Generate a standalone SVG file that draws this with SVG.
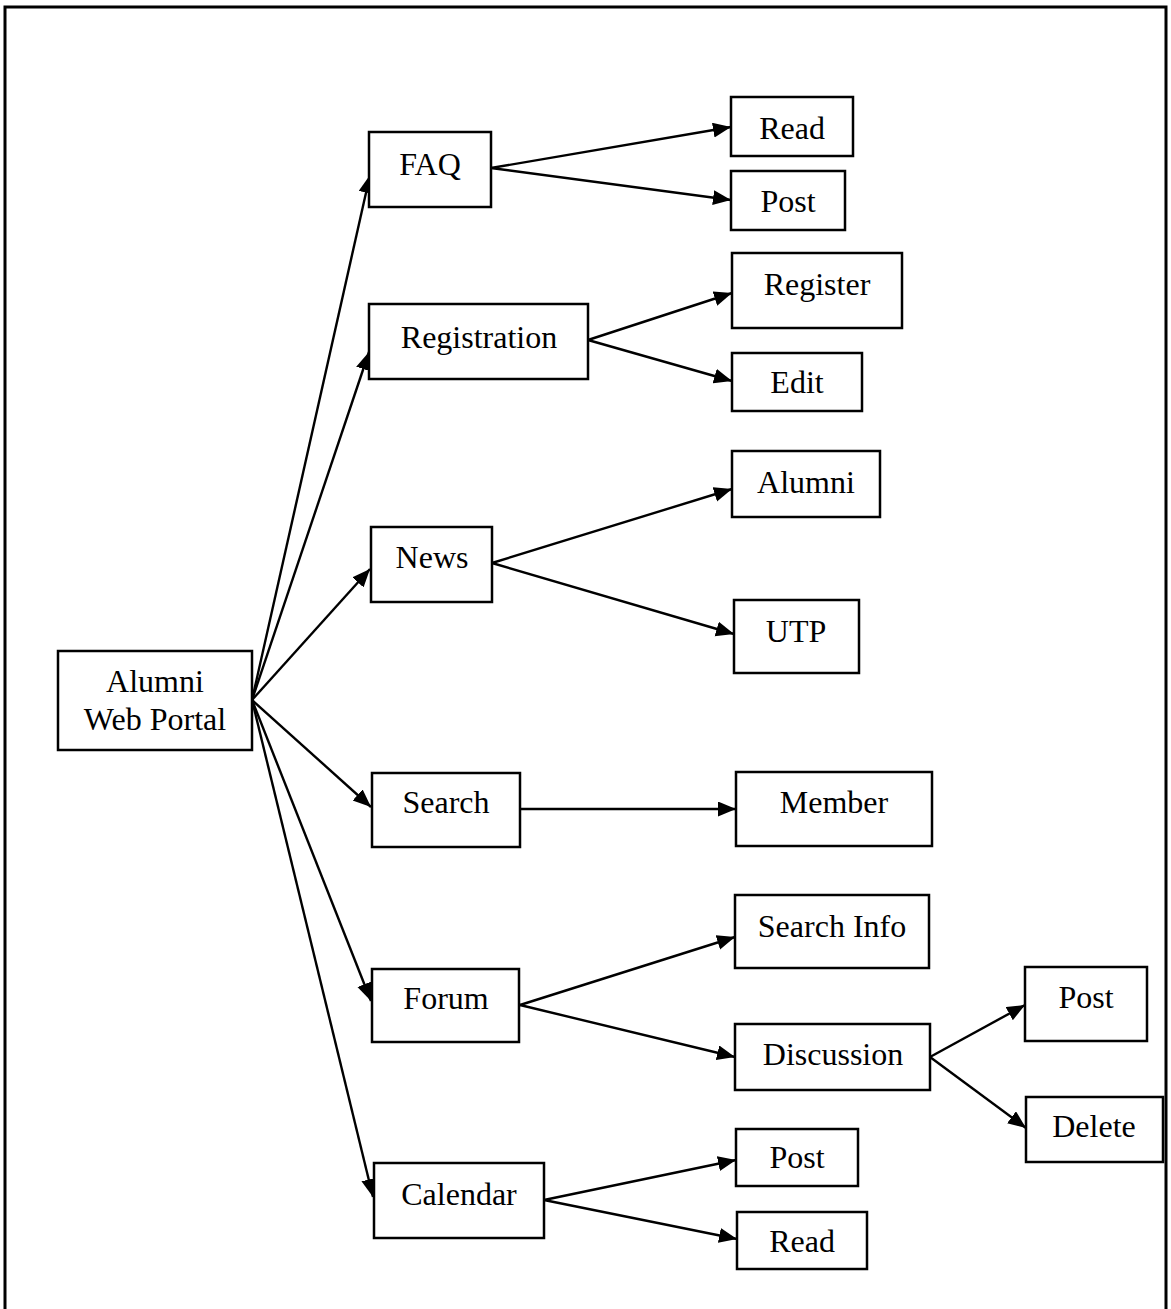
<svg xmlns="http://www.w3.org/2000/svg" width="1171" height="1309" viewBox="0 0 1171 1309">
<style>
.box{fill:#fff;stroke:#000;stroke-width:2.5}
.lbl{font-family:"Liberation Serif","Times New Roman",serif;font-size:32px;fill:#000;text-anchor:middle}
.edge{fill:none;stroke:#000;stroke-width:2.4;marker-end:url(#arr)}
</style>
<defs>
<marker id="arr" markerUnits="userSpaceOnUse" markerWidth="20" markerHeight="16" refX="18" refY="7.5" orient="auto">
<path d="M0,0 L18,7.5 L0,15 z" fill="#000"/>
</marker>
</defs>
<rect width="1171" height="1309" fill="#fff"/>
<path d="M5,1309 V7 H1166 V1309" fill="none" stroke="#000" stroke-width="3"/>
<g id="connectors">
<line class="edge" x1="252" y1="700" x2="370" y2="175"/>
<line class="edge" x1="252" y1="700" x2="369" y2="352"/>
<line class="edge" x1="252" y1="700" x2="370" y2="569"/>
<line class="edge" x1="252" y1="700" x2="371" y2="807"/>
<line class="edge" x1="252" y1="700" x2="371" y2="1001"/>
<line class="edge" x1="252" y1="700" x2="373" y2="1197"/>
<line class="edge" x1="491" y1="168" x2="731" y2="127"/>
<line class="edge" x1="491" y1="168" x2="731" y2="200"/>
<line class="edge" x1="588" y1="340" x2="732" y2="293"/>
<line class="edge" x1="588" y1="340" x2="732" y2="381"/>
<line class="edge" x1="492" y1="563" x2="732" y2="489"/>
<line class="edge" x1="492" y1="563" x2="734" y2="634"/>
<line class="edge" x1="520" y1="809" x2="736" y2="809"/>
<line class="edge" x1="520" y1="1005" x2="735" y2="937"/>
<line class="edge" x1="520" y1="1005" x2="735" y2="1057"/>
<line class="edge" x1="544" y1="1200" x2="736" y2="1160"/>
<line class="edge" x1="544" y1="1200" x2="737" y2="1239"/>
<line class="edge" x1="930" y1="1057" x2="1025" y2="1005"/>
<line class="edge" x1="930" y1="1057" x2="1026" y2="1128"/>
</g>
<g id="root"><rect class="box" x="58" y="651" width="194" height="99"/><text class="lbl" x="155" y="692">Alumni</text><text class="lbl" x="155" y="730">Web Portal</text></g>
<g id="faq"><rect class="box" x="369" y="132" width="122" height="75"/><text class="lbl" x="430" y="175">FAQ</text></g>
<g id="registration"><rect class="box" x="369" y="304" width="219" height="75"/><text class="lbl" x="479" y="348">Registration</text></g>
<g id="news"><rect class="box" x="371" y="527" width="121" height="75"/><text class="lbl" x="432" y="568">News</text></g>
<g id="search"><rect class="box" x="372" y="773" width="148" height="74"/><text class="lbl" x="446" y="813">Search</text></g>
<g id="forum"><rect class="box" x="372" y="969" width="147" height="73"/><text class="lbl" x="446" y="1009">Forum</text></g>
<g id="calendar"><rect class="box" x="374" y="1163" width="170" height="75"/><text class="lbl" x="459" y="1205">Calendar</text></g>
<g id="faq-read"><rect class="box" x="731" y="97" width="122" height="59"/><text class="lbl" x="792" y="139">Read</text></g>
<g id="faq-post"><rect class="box" x="731" y="171" width="114" height="59"/><text class="lbl" x="788" y="212">Post</text></g>
<g id="register"><rect class="box" x="732" y="253" width="170" height="75"/><text class="lbl" x="817" y="295">Register</text></g>
<g id="edit"><rect class="box" x="732" y="353" width="130" height="58"/><text class="lbl" x="797" y="393">Edit</text></g>
<g id="news-alumni"><rect class="box" x="732" y="451" width="148" height="66"/><text class="lbl" x="806" y="493">Alumni</text></g>
<g id="utp"><rect class="box" x="734" y="600" width="125" height="73"/><text class="lbl" x="796" y="642">UTP</text></g>
<g id="member"><rect class="box" x="736" y="772" width="196" height="74"/><text class="lbl" x="834" y="813">Member</text></g>
<g id="search-info"><rect class="box" x="735" y="895" width="194" height="73"/><text class="lbl" x="832" y="937">Search Info</text></g>
<g id="discussion"><rect class="box" x="735" y="1024" width="195" height="66"/><text class="lbl" x="833" y="1065">Discussion</text></g>
<g id="disc-post"><rect class="box" x="1025" y="967" width="122" height="74"/><text class="lbl" x="1086" y="1008">Post</text></g>
<g id="delete"><rect class="box" x="1026" y="1097" width="137" height="65"/><text class="lbl" x="1094" y="1137">Delete</text></g>
<g id="cal-post"><rect class="box" x="736" y="1129" width="122" height="57"/><text class="lbl" x="797" y="1168">Post</text></g>
<g id="cal-read"><rect class="box" x="737" y="1212" width="130" height="57"/><text class="lbl" x="802" y="1252">Read</text></g>
</svg>
